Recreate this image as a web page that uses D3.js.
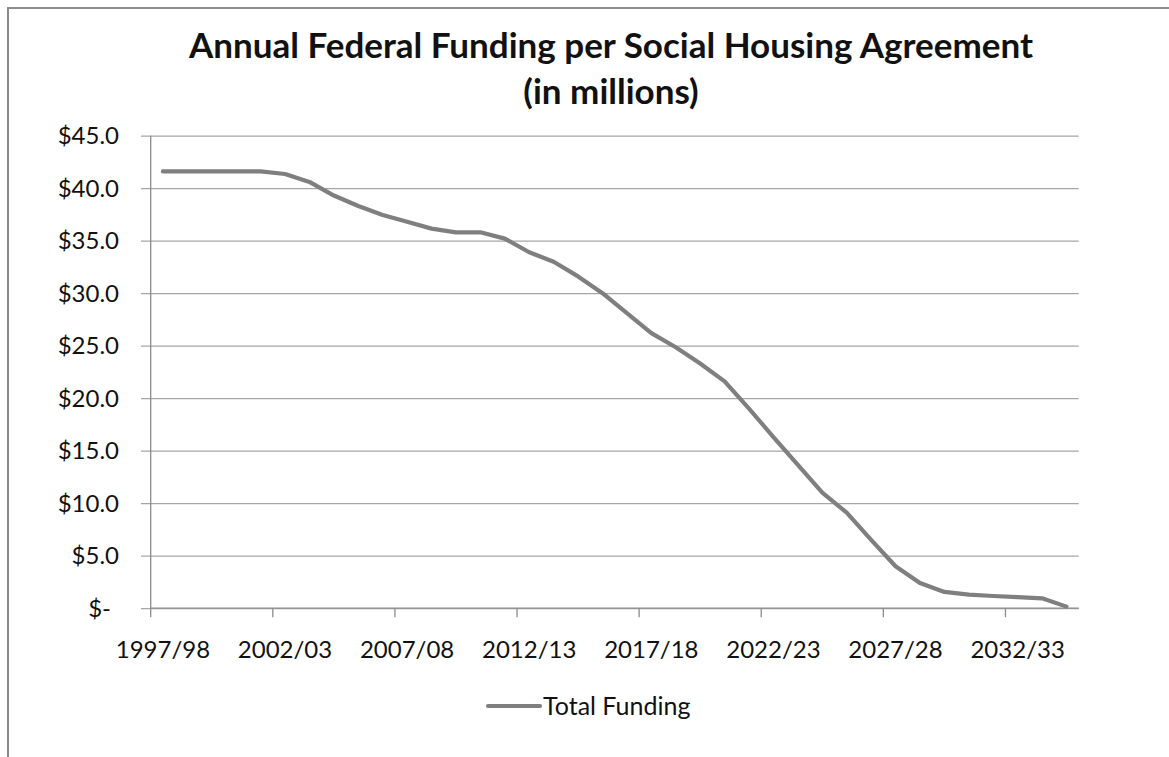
<!DOCTYPE html>
<html>
<head>
<meta charset="utf-8">
<script src="https://cdn.jsdelivr.net/npm/d3@7"></script>
<style>
  html, body { margin: 0; padding: 0; background: #fff; }
  svg { display: block; }
  text { font-family: Lato, "Open Sans", sans-serif; fill: #111; }
</style>
</head>
<body>
<svg id="chart" width="1169" height="757"></svg>
<script>
// Fiscal years covered by the agreement
const categories = [
  "1997/98","1998/99","1999/00","2000/01","2001/02","2002/03","2003/04","2004/05",
  "2005/06","2006/07","2007/08","2008/09","2009/10","2010/11","2011/12","2012/13",
  "2013/14","2014/15","2015/16","2016/17","2017/18","2018/19","2019/20","2020/21",
  "2021/22","2022/23","2023/24","2024/25","2025/26","2026/27","2027/28","2028/29",
  "2029/30","2030/31","2031/32","2032/33","2033/34","2034/35"
];

// Total federal funding, $ millions
const totalFunding = [
  41.6, 41.6, 41.6, 41.6, 41.6, 41.35, 40.6, 39.3,
  38.3, 37.45, 36.8, 36.15, 35.8, 35.8, 35.2, 33.9,
  33.0, 31.6, 30.0, 28.1, 26.2, 24.85, 23.3, 21.6,
  19.0, 16.3, 13.65, 11.0, 9.1, 6.5, 4.0, 2.4,
  1.55, 1.3, 1.16, 1.05, 0.94, 0.15
];

// Value axis ticks and their labels
const yTicks = [0, 5, 10, 15, 20, 25, 30, 35, 40, 45];
const yTickLabels = ["$-", "$5.0", "$10.0", "$15.0", "$20.0", "$25.0", "$30.0", "$35.0", "$40.0", "$45.0"];

// Category labels shown on the axis (every fifth year)
const xTickLabels = ["1997/98","2002/03","2007/08","2012/13","2017/18","2022/23","2027/28","2032/33"];

const titleLines = ["Annual Federal Funding per Social Housing Agreement", "(in millions)"];
const seriesName = "Total Funding";

const svg = d3.select("#chart");
const plot = { left: 150.7, right: 1078.7, top: 135.7, bottom: 608.2 };
const lineColor = "#7f7f7f";
const gridColor = "#a6a6a6";
const axisColor = "#8c8c8c";
const labelSize = 24;

// Outer chart frame
svg.append("rect")
  .attr("x", 8).attr("y", 8)
  .attr("width", 1200).attr("height", 800)
  .attr("fill", "none")
  .attr("stroke", "#8c8c8c")
  .attr("stroke-width", 2);

// Title
svg.append("text")
  .attr("text-anchor", "middle")
  .attr("font-size", 35).attr("font-weight", 700)
  .selectAll("tspan").data(titleLines).join("tspan")
  .attr("x", 611)
  .attr("y", (d, i) => 58 + i * 46)
  .text(d => d);

const x = d3.scaleBand()
  .domain(categories)
  .range([plot.left, plot.right])
  .paddingInner(0).paddingOuter(0);

const y = d3.scaleLinear()
  .domain([0, 45])
  .range([plot.bottom, plot.top]);

// Horizontal gridlines, extending left past the axis as tick marks
svg.append("g")
  .attr("transform", `translate(${plot.right},0)`)
  .call(d3.axisLeft(y).tickValues(yTicks).tickSize(plot.right - plot.left + 9.7).tickFormat(""))
  .call(g => g.select(".domain").remove())
  .call(g => g.selectAll(".tick line")
    .attr("stroke", gridColor).attr("stroke-width", 1.3));

// Value axis labels ("$-" sits a little further left, as in accounting format)
svg.append("g").selectAll("text").data(yTicks).join("text")
  .attr("x", 119)
  .attr("y", d => y(d))
  .attr("dx", d => d === 0 ? -8 : 0)
  .attr("dy", "0.36em")
  .attr("text-anchor", "end")
  .attr("font-size", labelSize)
  .text((d, i) => yTickLabels[i]);

// Value axis line
svg.append("line")
  .attr("x1", plot.left).attr("x2", plot.left)
  .attr("y1", plot.top).attr("y2", plot.bottom)
  .attr("stroke", axisColor).attr("stroke-width", 1.3);

// Category axis: tick marks at the boundary of every fifth category
const boundaryTicks = categories.filter((d, i) => i % 5 === 0);
const xg = svg.append("g")
  .attr("transform", `translate(0,${plot.bottom})`);
xg.append("line")
  .attr("x1", plot.left).attr("x2", plot.right)
  .attr("stroke", axisColor).attr("stroke-width", 1.3);
xg.selectAll("line.tick").data(boundaryTicks).join("line")
  .attr("class", "tick")
  .attr("x1", d => x(d)).attr("x2", d => x(d))
  .attr("y1", 0).attr("y2", 9)
  .attr("stroke", axisColor).attr("stroke-width", 1.3);
xg.selectAll("text").data(xTickLabels).join("text")
  .attr("x", d => x(d) + x.bandwidth() / 2)
  .attr("y", 50)
  .attr("text-anchor", "middle")
  .attr("font-size", labelSize)
  .text(d => d);

// Funding line
const line = d3.line()
  .x((d, i) => x(categories[i]) + x.bandwidth() / 2)
  .y(d => y(d));

svg.append("path")
  .datum(totalFunding)
  .attr("d", line)
  .attr("fill", "none")
  .attr("stroke", lineColor)
  .attr("stroke-width", 4.2)
  .attr("stroke-linejoin", "round")
  .attr("stroke-linecap", "round");

// Legend
const legend = svg.append("g").attr("transform", "translate(0,706)");
legend.append("line")
  .attr("x1", 488).attr("x2", 540)
  .attr("stroke", lineColor).attr("stroke-width", 4.2)
  .attr("stroke-linecap", "round");
legend.append("text")
  .attr("x", 543).attr("dy", "0.36em")
  .attr("font-size", 25)
  .text(seriesName);
</script>
</body>
</html>
